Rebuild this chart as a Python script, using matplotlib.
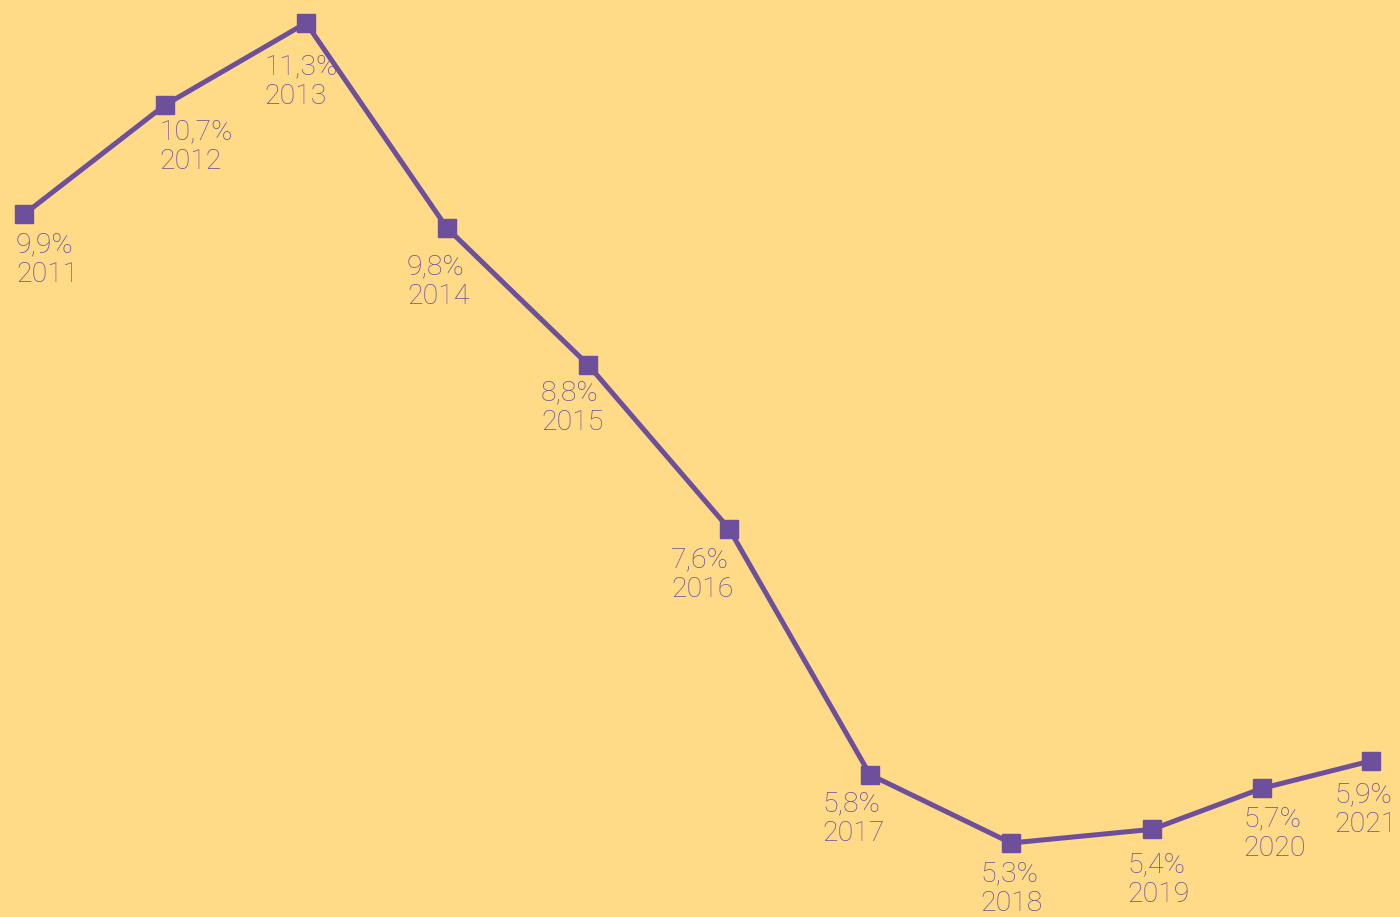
import numpy as np
import matplotlib
matplotlib.use('Agg')
import matplotlib.pyplot as plt

years = ['2011', '2012', '2013', '2014', '2015', '2016', '2017', '2018', '2019', '2020', '2021']
values = [9.9, 10.7, 11.3, 9.8, 8.8, 7.6, 5.8, 5.3, 5.4, 5.7, 5.9]
# horizontal slot of each year as drawn (last two are squeezed in the original)
xpos = [0, 1, 2, 3, 4, 5, 6, 7, 8, 8.78, 9.55]

# label placement relative to the marker, in pixels (left edge, top)
label_dx = [-8, -6, -42, -40, -47, -58, -48, -31, -25, -19, -36]
label_dy = [17, 13, 30, 25, 15, 18, 16, 17, 22, 17, 20]

bg = '#FFDB87'
purple = '#6E4F9B'
text_col = '#6C4E9C'

plt.rcParams['font.family'] = ['Roboto', 'DejaVu Sans']

fig = plt.figure(figsize=(14, 9.17), dpi=100, facecolor=bg)
ax = fig.add_axes([0, 0, 1, 1])
ax.set_facecolor(bg)

ax.plot(xpos, values, color=purple, lw=3.6, marker='s', ms=13,
        mfc=purple, mec=purple, solid_joinstyle='miter', zorder=3)

for x, v, yr, dx, dy in zip(xpos, values, years, label_dx, label_dy):
    lab = f'{v:.1f}%'.replace('.', ',') + '\n' + yr
    ax.annotate(lab, (x, v), xytext=(dx * 0.72, -dy * 0.72), textcoords='offset points',
                ha='left', va='top', fontsize=20.5, fontweight='light',
                color=text_col, linespacing=1.12)

ax.set_xlim(-24 / 141, (1400 - 24) / 141)
ax.set_ylim(5.3 - 74 / 136.7, 11.3 + 23 / 136.7)
ax.axis('off')

fig.savefig('out.png', dpi=100, facecolor=bg)
